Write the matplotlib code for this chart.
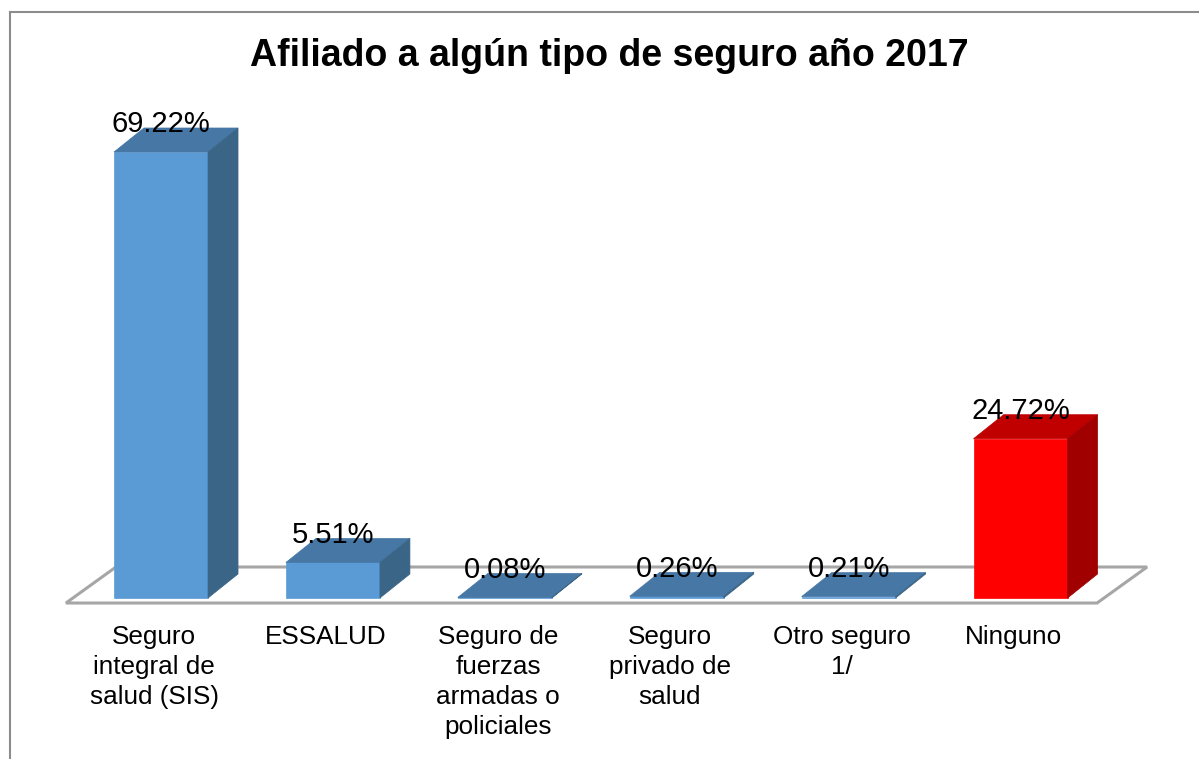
import matplotlib
matplotlib.use('Agg')
import matplotlib.pyplot as plt
from matplotlib.patches import Polygon
from matplotlib.lines import Line2D

# %% data
categories = ['Seguro\nintegral de\nsalud (SIS)', 'ESSALUD',
              'Seguro de\nfuerzas\narmadas o\npoliciales',
              'Seguro\nprivado de\nsalud', 'Otro seguro\n1/', 'Ninguno']
values = [69.22, 5.51, 0.08, 0.26, 0.21, 24.72]
value_labels = ['69.22%', '5.51%', '0.08%', '0.26%', '0.21%', '24.72%']
title = 'Afiliado a algún tipo de seguro año 2017'

# front / top / side colours for each bar
front_colors = ['#5b9bd5'] * 5 + ['#ff0000']
top_colors = ['#4677a5'] * 5 + ['#c00000']
side_colors = ['#3a6587'] * 5 + ['#a00000']

plt.rcParams['font.family'] = ['Liberation Sans', 'DejaVu Sans']

# %% geometry of the fake 3d look
bar_w = 0.547
depth_x, depth_y = 0.1745, 3.725      # bar depth (x units, y units)
floor_dx, floor_dy = 0.291, 5.59      # floor depth
floor_front = -0.78
floor_left, floor_right = -0.553, 5.445

fig = plt.figure(figsize=(11.99, 7.59), dpi=100)
ax = fig.add_axes([0, 0, 1, 1])
ax.set_xlim(-0.9366, 6.038)
ax.set_ylim(-24.99, 92.81)
ax.axis('off')

# floor
floor = Polygon([(floor_left, floor_front), (floor_right, floor_front),
                 (floor_right + floor_dx, floor_front + floor_dy),
                 (floor_left + floor_dx, floor_front + floor_dy)],
                closed=True, facecolor='white', edgecolor='#a6a6a6',
                linewidth=2.2, zorder=1)
ax.add_patch(floor)

for i, v in enumerate(values):
    x0 = i - bar_w / 2
    x1 = i + bar_w / 2
    ax.bar(i, v, width=bar_w, color=front_colors[i], zorder=3,
           edgecolor=front_colors[i], linewidth=0.5)
    top = Polygon([(x0, v), (x1, v), (x1 + depth_x, v + depth_y),
                   (x0 + depth_x, v + depth_y)], closed=True,
                  facecolor=top_colors[i], edgecolor=top_colors[i],
                  linewidth=0.5, zorder=3)
    side = Polygon([(x1, 0), (x1 + depth_x, depth_y),
                    (x1 + depth_x, v + depth_y), (x1, v)], closed=True,
                   facecolor=side_colors[i], edgecolor=side_colors[i],
                   linewidth=0.5, zorder=3)
    ax.add_patch(top)
    ax.add_patch(side)
    ax.text(i, v + 4.3, value_labels[i], ha='center', va='center',
            fontsize=21, color='black', zorder=5)
    ax.text(i - 0.04, -4.2, categories[i], ha='center', va='top',
            fontsize=18.8, color='black', linespacing=1.32)

fig.text(0.508, 0.926, title, ha='center', va='center',
         fontsize=27, fontweight='bold')

# chart border (only top and left visible in the crop)
fig.add_artist(Line2D([10 / 1199, 1], [1 - 12 / 759] * 2, color='#8c8c8c',
                      linewidth=1.5))
fig.add_artist(Line2D([10 / 1199] * 2, [0, 1 - 12 / 759], color='#8c8c8c',
                      linewidth=1.5))

plt.savefig('out.png', dpi=100)
